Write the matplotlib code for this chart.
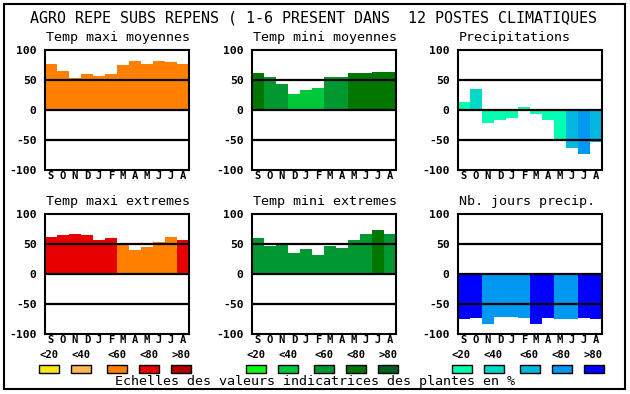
import matplotlib.pyplot as plt
from matplotlib.patches import Rectangle

plt.rcParams['axes.unicode_minus'] = False

W, H = 630, 394
MONO = 'DejaVu Sans Mono'

months = ['S', 'O', 'N', 'D', 'J', 'F', 'M', 'A', 'M', 'J', 'J', 'A']
scale_labels = ['<20', '<40', '<60', '<80', '>80']

temp_cols = ['#f8e818', '#ffb850', '#ff8000', '#e80000', '#b00000']
green_cols = ['#10f810', '#00c83c', '#009830', '#007800', '#006020']
blue_cols = ['#00ffb0', '#00d8c8', '#00b8e0', '#0098f0', '#0000ff']

# values (-100..100) and class index (0..4) of each month
tmax_moy = [77, 65, 53, 60, 57, 60, 75, 82, 77, 82, 80, 77]
tmax_moy_cls = [2, 2, 2, 2, 2, 2, 2, 2, 2, 2, 2, 2]
tmin_moy = [62, 55, 43, 27, 33, 37, 55, 55, 62, 62, 63, 63]
tmin_moy_cls = [3, 2, 2, 1, 1, 1, 2, 2, 3, 3, 3, 3]
precip = [13, 35, -21, -16, -13, 5, -6, -16, -48, -63, -74, -54]
precip_cls = [0, 1, 0, 0, 0, 0, 0, 0, 0, 2, 3, 2]
tmax_ext = [62, 65, 67, 65, 57, 60, 49, 40, 45, 54, 62, 57]
tmax_ext_cls = [3, 3, 3, 3, 3, 3, 2, 2, 2, 2, 2, 3]
tmin_ext = [60, 47, 50, 35, 42, 32, 47, 44, 57, 67, 74, 67]
tmin_ext_cls = [2, 2, 2, 2, 2, 2, 2, 2, 2, 2, 3, 2]
jours = [-75, -74, -84, -71, -71, -74, -84, -74, -75, -75, -74, -75]
jours_cls = [4, 4, 3, 3, 3, 3, 4, 4, 3, 3, 4, 4]

panels = [
    ('Temp maxi moyennes', tmax_moy, tmax_moy_cls, temp_cols, 45, 50),
    ('Temp mini moyennes', tmin_moy, tmin_moy_cls, green_cols, 252, 50),
    ('Precipitations', precip, precip_cls, blue_cols, 458, 50),
    ('Temp maxi extremes', tmax_ext, tmax_ext_cls, temp_cols, 45, 214),
    ('Temp mini extremes', tmin_ext, tmin_ext_cls, green_cols, 252, 214),
    ('Nb. jours precip.', jours, jours_cls, blue_cols, 458, 214),
]


def fx(x):
    return x / W


def fy(y):
    return 1 - y / H


fig = plt.figure(figsize=(W / 100, H / 100), dpi=100)

for title, vals, cls, cols, left, top in panels:
    ax = fig.add_axes([fx(left), fy(top + 120), 144 / W, 120 / H])
    ax.bar(range(12), vals, width=1.0, color=[cols[c] for c in cls], linewidth=0, zorder=1)
    for yv in (-50, 0, 50):
        ax.axhline(yv, color='black', lw=1.6, zorder=2)
    ax.set_xlim(-0.5, 11.5)
    ax.set_ylim(-100, 100)
    ax.set_yticks([-100, -50, 0, 50, 100])
    ax.set_xticks(range(12))
    ax.set_xticklabels(months)
    for lab in ax.get_yticklabels():
        lab.set_fontfamily(MONO)
        lab.set_fontweight('bold')
        lab.set_fontsize(8.2)
    for lab in ax.get_xticklabels():
        lab.set_fontfamily(MONO)
        lab.set_fontweight('bold')
        lab.set_fontsize(7.6)
    ax.tick_params(length=0)
    ax.tick_params(axis='y', pad=6)
    ax.tick_params(axis='x', pad=1)
    for s in ax.spines.values():
        s.set_linewidth(1.5)
    fig.text(fx(left + 1), fy(top - 12), title, family=MONO, fontsize=9.6,
             ha='left', va='center')

fig.text(fx(314), fy(18), 'AGRO REPE SUBS REPENS ( 1-6 PRESENT DANS  12 POSTES CLIMATIQUES',
         family=MONO, fontsize=10.8, ha='center', va='center')

offsets = [0, 32, 68, 100, 132]
for start, cols in [(49, temp_cols), (256, green_cols), (461.5, blue_cols)]:
    for off, lab, c in zip(offsets, scale_labels, cols):
        cx = start + off
        fig.text(fx(cx), fy(355), lab, family=MONO, fontweight='bold', fontsize=7.6,
                 ha='center', va='center')
        fig.patches.append(Rectangle((fx(cx - 10), fy(373)), 20 / W, 8 / H,
                                     transform=fig.transFigure, facecolor=c,
                                     edgecolor='black', lw=1.0))

fig.text(fx(315), fy(382), 'Echelles des valeurs indicatrices des plantes en %',
         family=MONO, fontsize=9.6, ha='center', va='center')

fig.patches.append(Rectangle((fx(4), fy(389)), 621 / W, 385 / H,
                             transform=fig.transFigure, fill=False,
                             edgecolor='black', lw=1.5))

fig.savefig('out.png', dpi=100)
